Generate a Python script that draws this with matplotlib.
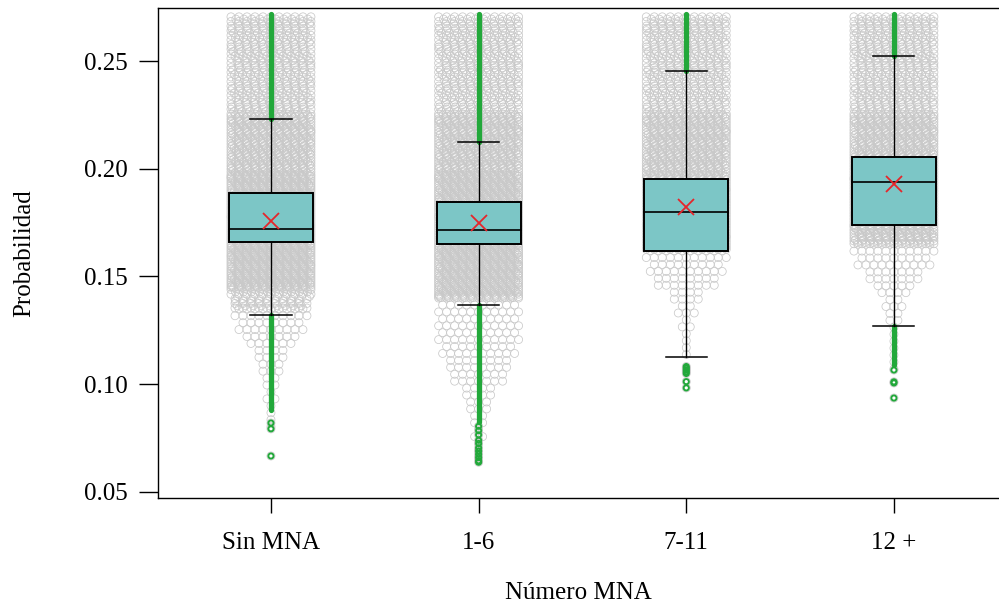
import numpy as np
import matplotlib.pyplot as plt

plt.rcParams['font.family'] = ['Liberation Serif', 'DejaVu Serif']

# --- datos ---
categories = ['Sin MNA', '1-6', '7-11', '12 +']
q1 = [0.1660, 0.1650, 0.1618, 0.1739]
median = [0.1720, 0.1716, 0.1800, 0.1939]
q3 = [0.1887, 0.1846, 0.1952, 0.2055]
means = [0.1758, 0.1750, 0.1822, 0.1930]
whisker_lo = [0.1321, 0.1368, 0.1126, 0.1270]
whisker_hi = [0.2230, 0.2124, 0.2454, 0.2523]

# columnas densas de atipicos (verde): desde el bigote hasta el limite
upper_run_end = [0.2718, 0.2718, 0.2718, 0.2718]
lower_run_end = [0.0880, 0.0826, np.nan, 0.1088]
# atipicos sueltos por debajo
out_sin = [0.0820, 0.0793, 0.0667]
out_16 = [0.0805, 0.0785, 0.0765, 0.0740, 0.0725, 0.0705, 0.0690,
          0.0675, 0.0660, 0.0645, 0.0638]
out_711 = [0.1082, 0.1074, 0.1066, 0.1058, 0.1050, 0.1012, 0.0983]
out_12 = [0.1066, 0.1011, 0.1006, 0.0936]
outliers = [out_sin, out_16, out_711, out_12]

# silueta del enjambre (beeswarm): nivel y semi-ancho (unidades de x)
swarm_y_sin = [0.2705, 0.140, 0.1266, 0.119, 0.1127, 0.108, 0.096, 0.088, 0.081, 0.079]
swarm_hw_sin = [0.212, 0.212, 0.183, 0.135, 0.096, 0.072, 0.048, 0.0385, 0.024, 0.020]
swarm_y_16 = [0.2705, 0.118, 0.110, 0.103, 0.097, 0.090, 0.083, 0.073, 0.064]
swarm_hw_16 = [0.212, 0.212, 0.178, 0.150, 0.096, 0.082, 0.050, 0.043, 0.030]
swarm_y_711 = [0.2705, 0.158, 0.153, 0.147, 0.142, 0.1377, 0.1312, 0.125, 0.1205, 0.116, 0.112]
swarm_hw_711 = [0.212, 0.212, 0.202, 0.178, 0.096, 0.082, 0.058, 0.0385, 0.0385, 0.024, 0.020]
swarm_y_12 = [0.2705, 0.160, 0.156, 0.152, 0.147, 0.142, 0.138, 0.131, 0.1266, 0.120, 0.105]
swarm_hw_12 = [0.212, 0.212, 0.202, 0.154, 0.135, 0.087, 0.072, 0.058, 0.0385, 0.030, 0.024]
swarm_y = [swarm_y_sin, swarm_y_16, swarm_y_711, swarm_y_12]
swarm_hw = [swarm_hw_sin, swarm_hw_16, swarm_hw_711, swarm_hw_12]

# bandas de densidad (capas superpuestas)
band_edges = [[0.2705, 0.225, 0.197, 0.145, 0.135, 0.0],
              [0.2705, 0.225, 0.197, 0.140, 0.0],
              [0.2705, 0.225, 0.162, 0.0],
              [0.2705, 0.225, 0.165, 0.0]]
band_layers = [[3, 5, 6, 3, 1],
               [3, 5, 6, 1],
               [3, 5, 1],
               [3, 5, 1]]

box_color = '#7cc6c6'
green = '#22a83a'
gray = '#c9c9c9'

fig = plt.figure(figsize=(9.99, 6.08), dpi=100)
ax = fig.add_axes([158 / 999, 110 / 608, 841 / 999, 490 / 608])
ax.set_xlim(0.456, 4.506)
ax.set_ylim(0.0472, 0.2746)

pos = np.arange(1, len(categories) + 1)
dx = 8 / 207.7     # separacion horizontal de los circulos
dy = 6.93 / 2155   # separacion vertical
phi = 0.618034


def swarm(p, ys, hws, edges, layers):
    ys = np.array(ys)[::-1]
    hws = np.array(hws)[::-1]
    px, py = [], []
    row = 0
    for hi, lo, k in zip(edges[:-1], edges[1:], layers):
        y = hi
        while y > lo and y >= ys[0]:
            hw = np.interp(y, ys, hws)
            n = max(1, int(2 * hw / dx))
            shift = 0.0
            if row % 2 and n > 1:
                n -= 1
                if k > 1:
                    shift = ((row * phi) % 1 - 0.5) * dx
            cx = (np.arange(n) - (n - 1) / 2) * dx + shift
            px.extend(p + cx)
            py.extend([y] * n)
            row += 1
            y -= dy / k
    return px, py


for i, p in enumerate(pos):
    sx, sy = swarm(p, swarm_y[i], swarm_hw[i], band_edges[i], band_layers[i])
    ax.scatter(sx, sy, s=33, facecolors='none', edgecolors=gray,
               linewidths=0.55, zorder=1)
    ax.scatter([p] * len(outliers[i]), outliers[i], s=33, facecolors='none',
               edgecolors=gray, linewidths=0.6, zorder=1)

    # atipicos
    ax.plot([p, p], [whisker_hi[i], upper_run_end[i]], color=green, lw=3.8,
            solid_capstyle='round', zorder=2)
    if not np.isnan(lower_run_end[i]):
        ax.plot([p, p], [whisker_lo[i], lower_run_end[i]], color=green, lw=3.8,
                solid_capstyle='round', zorder=2)
    ax.scatter([p] * len(outliers[i]), outliers[i], s=14, facecolors='none',
               edgecolors=green, linewidths=1.4, zorder=2)

    # bigotes
    ax.plot([p, p], [whisker_lo[i], q1[i]], color='black', lw=1.0, zorder=3)
    ax.plot([p, p], [q3[i], whisker_hi[i]], color='black', lw=1.0, zorder=3)
    for w in (whisker_lo[i], whisker_hi[i]):
        ax.plot([p - 0.099, p + 0.099], [w, w], color='black', lw=1.1, zorder=3)

    # caja
    ax.add_patch(plt.Rectangle((p - 0.202, q1[i]), 0.404, q3[i] - q1[i],
                               facecolor=box_color, edgecolor='black',
                               lw=1.4, zorder=4))
    ax.plot([p - 0.202, p + 0.202], [median[i], median[i]], color='black',
            lw=1.2, zorder=5)

ax.plot(pos, means, linestyle='none', marker='x', markersize=12,
        markeredgewidth=1.3, color='#e5262b', zorder=6)

ax.set_xticks(pos)
ax.set_xticklabels(categories)
yt = [0.05, 0.10, 0.15, 0.20, 0.25]
ax.set_yticks(yt)
ax.set_yticklabels(['%.2f' % v for v in yt])
ax.tick_params(axis='y', length=13.7, width=1.0, pad=8.0, labelsize=18)
ax.tick_params(axis='x', length=10.8, width=1.0, pad=13.5, labelsize=18)
ax.spines['right'].set_visible(False)
for s in ('left', 'top', 'bottom'):
    ax.spines[s].set_linewidth(1.0)

ax.set_xlabel('Número MNA', fontsize=18)
ax.xaxis.set_label_coords(0.5, -0.193)
ax.xaxis.label.set_verticalalignment('center')
ax.set_ylabel('Probabilidad', fontsize=18)
ax.yaxis.set_label_coords(-0.1592, 0.5)
ax.yaxis.label.set_verticalalignment('center')

fig.savefig('out.png', dpi=100)
